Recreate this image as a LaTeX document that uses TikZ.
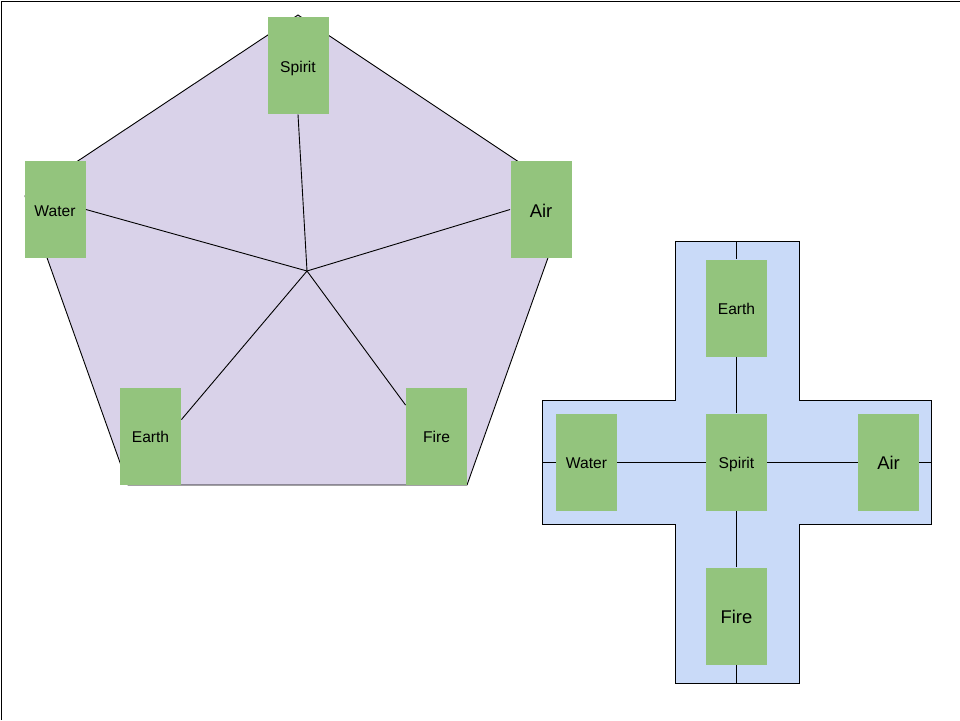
\documentclass[tikz,border=0pt]{standalone}
\usepackage{fontspec}
\setmainfont{Liberation Sans}
\definecolor{lavender}{HTML}{D9D2E9}
\definecolor{leaf}{HTML}{93C47D}
\definecolor{skyblue}{HTML}{C9DAF8}
\begin{document}
\begin{tikzpicture}[x=1pt,y=-1pt,line width=0.9pt,
  card/.style={fill=leaf,inner sep=0pt,minimum width=61pt,minimum height=97pt,text height=13pt,text depth=0pt,font=\fontsize{15.6}{18}\selectfont},
  bigcard/.style={card,text height=15pt,font=\fontsize{18.4}{21}\selectfont}]
\useasboundingbox (0,0) rectangle (960,720);
\path[draw] (1,720) -- (1,1) -- (960,1);

\path[draw,fill=lavender] (298,15) -- (570,196) -- (467,485) -- (128,485) -- (25,196) -- cycle;
\coordinate (hub) at (307,271);

\node[card] (pSpirit) at (298,65.5) {Spirit};
\node[card] (pWater) at (55,209.5) {Water};
\node[bigcard] (pAir) at (541,209.5) {Air};
\node[card] (pEarth) at (150.5,436) {Earth};
\node[card] (pFire) at (436.5,436) {Fire};

\path[draw] (hub) -- (pSpirit.south);
\path[draw] (hub) -- (pWater.east);
\path[draw] (hub) -- (pAir.west);
\path[draw] (hub) -- (pEarth.28);
\path[draw] (hub) -- (pFire.135);

\path[draw,fill=skyblue] (675,241) -- (799,241) -- (799,400) -- (931,400) -- (931,524) -- (799,524) -- (799,683) -- (675,683) -- (675,524) -- (542,524) -- (542,400) -- (675,400) -- cycle;
\coordinate (cTop) at (736.5,241);
\coordinate (cBottom) at (736.5,683);
\coordinate (cLeft) at (542,462);
\coordinate (cRight) at (931,462);

\node[card] (cEarth) at (736.5,308) {Earth};
\node[card] (cWater) at (586.5,462) {Water};
\node[card] (cSpirit) at (736.5,462) {Spirit};
\node[bigcard] (cAir) at (888.5,462) {Air};
\node[bigcard] (cFire) at (736.5,616) {Fire};

\path[draw] (cTop) -- (cEarth) -- (cSpirit) -- (cFire) -- (cBottom);
\path[draw] (cLeft) -- (cWater) -- (cSpirit) -- (cAir) -- (cRight);
\end{tikzpicture}
\end{document}
